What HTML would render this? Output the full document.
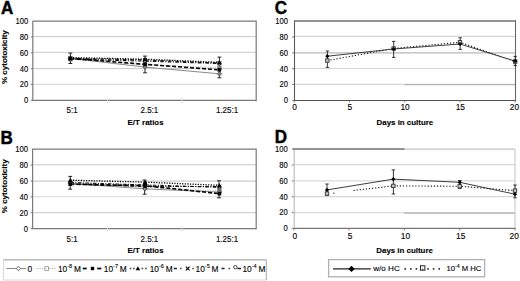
<!DOCTYPE html>
<html><head><meta charset="utf-8"><style>
html,body{margin:0;padding:0;background:#fff;}
text{stroke:#000;stroke-width:0.12px;}
.lt text{stroke:#000;stroke-width:0.45px;}
body{width:520px;height:281px;overflow:hidden;}
svg{display:block;}
</style></head><body>
<svg width="520" height="281" viewBox="0 0 520 281" font-family='"Liberation Sans", sans-serif' fill="#000">
<rect width="520" height="281" fill="#fff"/>
<g class="lt" font-weight="bold" font-size="17" fill="#000">
<text transform="translate(1.1,14.3) scale(1.0,1.05)">A</text>
<text transform="translate(0.6,143.5) scale(1.0,1.08)">B</text>
<text transform="translate(274.8,13.7) scale(1.0,1.05)">C</text>
<text transform="translate(274.8,143.3) scale(1.0,1.06)">D</text>
</g>
<line x1="32.8" y1="36.60" x2="256.2" y2="36.60" stroke="#c8c8c8" stroke-width="1.0"/>
<line x1="32.8" y1="52.45" x2="256.2" y2="52.45" stroke="#d6d6d6" stroke-width="1.3"/>
<line x1="32.8" y1="68.60" x2="256.2" y2="68.60" stroke="#c8c8c8" stroke-width="1.0"/>
<line x1="32.8" y1="84.30" x2="256.2" y2="84.30" stroke="#dadada" stroke-width="1.3"/>
<line x1="30.799999999999997" y1="37.02" x2="32.8" y2="37.02" stroke="#7a7a7a" stroke-width="1"/>
<line x1="30.799999999999997" y1="52.84" x2="32.8" y2="52.84" stroke="#7a7a7a" stroke-width="1"/>
<line x1="30.799999999999997" y1="68.66" x2="32.8" y2="68.66" stroke="#7a7a7a" stroke-width="1"/>
<line x1="30.799999999999997" y1="84.48" x2="32.8" y2="84.48" stroke="#7a7a7a" stroke-width="1"/>
<line x1="30.799999999999997" y1="100.30" x2="32.8" y2="100.30" stroke="#7a7a7a" stroke-width="1"/>
<path d="M32.8,21.2 L256.2,21.2 L256.2,101.3 M32.8,20.7 L32.8,100.3 L256.7,100.3" fill="none" stroke="#7a7a7a" stroke-width="1.2"/>
<text transform="translate(28.20,24.10) scale(0.91,1)" text-anchor="end" font-size="8.4">100</text>
<text transform="translate(28.20,39.92) scale(0.91,1)" text-anchor="end" font-size="8.4">80</text>
<text transform="translate(28.20,55.74) scale(0.91,1)" text-anchor="end" font-size="8.4">60</text>
<text transform="translate(28.20,71.56) scale(0.91,1)" text-anchor="end" font-size="8.4">40</text>
<text transform="translate(28.20,87.38) scale(0.91,1)" text-anchor="end" font-size="8.4">20</text>
<text transform="translate(28.20,103.20) scale(0.91,1)" text-anchor="end" font-size="8.4">0</text>
<line x1="107.6" y1="97.3" x2="107.6" y2="103.3" stroke="#e2e2e2" stroke-width="1"/>
<line x1="182.0" y1="97.3" x2="182.0" y2="103.3" stroke="#e2e2e2" stroke-width="1"/>
<path d="M70.40,59.17 L145.00,64.70 L219.40,67.87" fill="none" stroke="#9a9a9a" stroke-width="0.9" stroke-dasharray="1,1.5"/>
<path d="M70.40,58.38 L145.00,67.08 L219.40,73.80" fill="none" stroke="#8a8a8a" stroke-width="1.0"/>
<path d="M70.40,59.17 L145.00,61.15 L219.40,63.52" fill="none" stroke="#111" stroke-width="1.1" stroke-dasharray="3.5,1.5,1,1.5"/>
<path d="M70.40,58.38 L145.00,59.96 L219.40,63.12" fill="none" stroke="#111" stroke-width="1.1" stroke-dasharray="3.5,1.5,1,1.5"/>
<path d="M70.40,57.59 L145.00,59.17 L219.40,62.33" fill="none" stroke="#000" stroke-width="1.3" stroke-dasharray="1.2,1.4"/>
<path d="M70.40,58.38 L145.00,64.31 L219.40,69.85" fill="none" stroke="#000" stroke-width="1.6" stroke-dasharray="4,2"/>
<line x1="70.4" y1="53.1" x2="70.4" y2="63.5" stroke="#222" stroke-width="1.0"/>
<line x1="68.5" y1="53.1" x2="72.30000000000001" y2="53.1" stroke="#222" stroke-width="1.0"/>
<line x1="68.5" y1="63.5" x2="72.30000000000001" y2="63.5" stroke="#222" stroke-width="1.0"/>
<line x1="145.0" y1="56.1" x2="145.0" y2="72.8" stroke="#222" stroke-width="1.0"/>
<line x1="143.1" y1="56.1" x2="146.9" y2="56.1" stroke="#222" stroke-width="1.0"/>
<line x1="143.1" y1="72.8" x2="146.9" y2="72.8" stroke="#222" stroke-width="1.0"/>
<line x1="219.4" y1="57.1" x2="219.4" y2="77.8" stroke="#222" stroke-width="1.0"/>
<line x1="217.5" y1="57.1" x2="221.3" y2="57.1" stroke="#222" stroke-width="1.0"/>
<line x1="217.5" y1="77.8" x2="221.3" y2="77.8" stroke="#222" stroke-width="1.0"/>
<rect x="68.60" y="57.37" width="3.60" height="3.60" fill="#888" stroke="#888" stroke-width="0.8"/>
<rect x="143.20" y="62.91" width="3.60" height="3.60" fill="#888" stroke="#888" stroke-width="0.8"/>
<rect x="217.60" y="66.07" width="3.60" height="3.60" fill="#888" stroke="#888" stroke-width="0.8"/>
<path d="M68.20,58.38 L70.40,56.18 L72.60,58.38 L70.40,60.58 Z" fill="#888" stroke="#555" stroke-width="0.9"/>
<path d="M142.80,67.08 L145.00,64.88 L147.20,67.08 L145.00,69.28 Z" fill="#888" stroke="#555" stroke-width="0.9"/>
<path d="M217.20,73.80 L219.40,71.60 L221.60,73.80 L219.40,76.00 Z" fill="#888" stroke="#555" stroke-width="0.9"/>
<circle cx="70.40" cy="59.17" r="1.8" fill="#888" stroke="#333" stroke-width="0.8"/>
<circle cx="145.00" cy="61.15" r="1.8" fill="#888" stroke="#333" stroke-width="0.8"/>
<circle cx="219.40" cy="63.52" r="1.8" fill="#888" stroke="#333" stroke-width="0.8"/>
<path d="M68.60,56.58 L72.20,60.18 M72.20,56.58 L68.60,60.18" stroke="#000" stroke-width="0.9"/>
<path d="M143.20,58.16 L146.80,61.76 M146.80,58.16 L143.20,61.76" stroke="#000" stroke-width="0.9"/>
<path d="M217.60,61.32 L221.20,64.92 M221.20,61.32 L217.60,64.92" stroke="#000" stroke-width="0.9"/>
<path d="M70.40,55.39 L72.60,59.35 L68.20,59.35 Z" fill="#000"/>
<path d="M145.00,56.97 L147.20,60.93 L142.80,60.93 Z" fill="#000"/>
<path d="M219.40,60.13 L221.60,64.09 L217.20,64.09 Z" fill="#000"/>
<rect x="68.60" y="56.58" width="3.60" height="3.60" fill="#000"/>
<rect x="143.20" y="62.51" width="3.60" height="3.60" fill="#000"/>
<rect x="217.60" y="68.05" width="3.60" height="3.60" fill="#000"/>
<text transform="translate(72.1,113.00) scale(0.95,1)" text-anchor="middle" font-size="8.4">5:1</text>
<text transform="translate(149.4,113.00) scale(0.95,1)" text-anchor="middle" font-size="8.4">2.5:1</text>
<text transform="translate(227.0,113.00) scale(0.95,1)" text-anchor="middle" font-size="8.4">1.25:1</text>
<text x="145.6" y="124.9" text-anchor="middle" font-size="7.9" font-weight="bold">E/T ratios</text>
<text transform="translate(7.3,57.1) rotate(-90)" text-anchor="middle" font-size="8" font-weight="bold">% cytotoxicity</text>
<line x1="32.6" y1="164.80" x2="256.2" y2="164.80" stroke="#c6c6c6" stroke-width="1.0"/>
<line x1="32.6" y1="181.10" x2="256.2" y2="181.10" stroke="#cccccc" stroke-width="1.1"/>
<line x1="32.6" y1="196.60" x2="256.2" y2="196.60" stroke="#e0e0e0" stroke-width="1.4"/>
<line x1="32.6" y1="212.70" x2="256.2" y2="212.70" stroke="#c6c6c6" stroke-width="1.0"/>
<line x1="30.6" y1="165.08" x2="32.6" y2="165.08" stroke="#7a7a7a" stroke-width="1"/>
<line x1="30.6" y1="180.96" x2="32.6" y2="180.96" stroke="#7a7a7a" stroke-width="1"/>
<line x1="30.6" y1="196.84" x2="32.6" y2="196.84" stroke="#7a7a7a" stroke-width="1"/>
<line x1="30.6" y1="212.72" x2="32.6" y2="212.72" stroke="#7a7a7a" stroke-width="1"/>
<line x1="30.6" y1="228.60" x2="32.6" y2="228.60" stroke="#7a7a7a" stroke-width="1"/>
<path d="M32.6,149.2 L256.2,149.2 L256.2,229.6 M32.6,148.7 L32.6,228.6 L256.7,228.6" fill="none" stroke="#7a7a7a" stroke-width="1.2"/>
<text transform="translate(28.00,152.10) scale(0.91,1)" text-anchor="end" font-size="8.4">100</text>
<text transform="translate(28.00,167.98) scale(0.91,1)" text-anchor="end" font-size="8.4">80</text>
<text transform="translate(28.00,183.86) scale(0.91,1)" text-anchor="end" font-size="8.4">60</text>
<text transform="translate(28.00,199.74) scale(0.91,1)" text-anchor="end" font-size="8.4">40</text>
<text transform="translate(28.00,215.62) scale(0.91,1)" text-anchor="end" font-size="8.4">20</text>
<text transform="translate(28.00,231.50) scale(0.91,1)" text-anchor="end" font-size="8.4">0</text>
<line x1="107.6" y1="225.6" x2="107.6" y2="231.6" stroke="#e2e2e2" stroke-width="1"/>
<line x1="182.0" y1="225.6" x2="182.0" y2="231.6" stroke="#e2e2e2" stroke-width="1"/>
<path d="M70.40,182.55 L145.00,187.31 L219.40,191.28" fill="none" stroke="#9a9a9a" stroke-width="0.9" stroke-dasharray="1,1.5"/>
<path d="M70.40,183.34 L145.00,188.90 L219.40,192.08" fill="none" stroke="#8a8a8a" stroke-width="1.0"/>
<path d="M70.40,182.55 L145.00,184.93 L219.40,187.31" fill="none" stroke="#111" stroke-width="1.1" stroke-dasharray="3.5,1.5,1,1.5"/>
<path d="M70.40,184.14 L145.00,186.52 L219.40,186.52" fill="none" stroke="#111" stroke-width="1.1" stroke-dasharray="3.5,1.5,1,1.5"/>
<path d="M70.40,184.14 L145.00,185.72 L219.40,193.66" fill="none" stroke="#000" stroke-width="1.6" stroke-dasharray="4,2"/>
<path d="M70.40,180.17 L145.00,182.15 L219.40,185.33" fill="none" stroke="#000" stroke-width="1.3" stroke-dasharray="1.2,1.4"/>
<line x1="70.2" y1="176.4" x2="70.2" y2="189.2" stroke="#222" stroke-width="1.0"/>
<line x1="68.3" y1="176.4" x2="72.10000000000001" y2="176.4" stroke="#222" stroke-width="1.0"/>
<line x1="68.3" y1="189.2" x2="72.10000000000001" y2="189.2" stroke="#222" stroke-width="1.0"/>
<line x1="144.6" y1="180.0" x2="144.6" y2="194.2" stroke="#222" stroke-width="1.0"/>
<line x1="142.7" y1="180.0" x2="146.5" y2="180.0" stroke="#222" stroke-width="1.0"/>
<line x1="142.7" y1="194.2" x2="146.5" y2="194.2" stroke="#222" stroke-width="1.0"/>
<line x1="219.0" y1="180.7" x2="219.0" y2="197.8" stroke="#222" stroke-width="1.0"/>
<line x1="217.1" y1="180.7" x2="220.9" y2="180.7" stroke="#222" stroke-width="1.0"/>
<line x1="217.1" y1="197.8" x2="220.9" y2="197.8" stroke="#222" stroke-width="1.0"/>
<rect x="68.60" y="180.75" width="3.60" height="3.60" fill="#888" stroke="#888" stroke-width="0.8"/>
<rect x="143.20" y="185.51" width="3.60" height="3.60" fill="#888" stroke="#888" stroke-width="0.8"/>
<rect x="217.60" y="189.48" width="3.60" height="3.60" fill="#888" stroke="#888" stroke-width="0.8"/>
<path d="M68.20,183.34 L70.40,181.14 L72.60,183.34 L70.40,185.54 Z" fill="#888" stroke="#555" stroke-width="0.9"/>
<path d="M142.80,188.90 L145.00,186.70 L147.20,188.90 L145.00,191.10 Z" fill="#888" stroke="#555" stroke-width="0.9"/>
<path d="M217.20,192.08 L219.40,189.88 L221.60,192.08 L219.40,194.28 Z" fill="#888" stroke="#555" stroke-width="0.9"/>
<circle cx="70.40" cy="182.55" r="1.8" fill="#888" stroke="#333" stroke-width="0.8"/>
<circle cx="145.00" cy="184.93" r="1.8" fill="#888" stroke="#333" stroke-width="0.8"/>
<circle cx="219.40" cy="187.31" r="1.8" fill="#888" stroke="#333" stroke-width="0.8"/>
<path d="M68.60,182.34 L72.20,185.94 M72.20,182.34 L68.60,185.94" stroke="#000" stroke-width="0.9"/>
<path d="M143.20,184.72 L146.80,188.32 M146.80,184.72 L143.20,188.32" stroke="#000" stroke-width="0.9"/>
<path d="M217.60,184.72 L221.20,188.32 M221.20,184.72 L217.60,188.32" stroke="#000" stroke-width="0.9"/>
<rect x="68.60" y="182.34" width="3.60" height="3.60" fill="#000"/>
<rect x="143.20" y="183.92" width="3.60" height="3.60" fill="#000"/>
<rect x="217.60" y="191.86" width="3.60" height="3.60" fill="#000"/>
<path d="M70.40,177.97 L72.60,181.93 L68.20,181.93 Z" fill="#000"/>
<path d="M145.00,179.95 L147.20,183.91 L142.80,183.91 Z" fill="#000"/>
<path d="M219.40,183.13 L221.60,187.09 L217.20,187.09 Z" fill="#000"/>
<text transform="translate(72.1,241.90) scale(0.95,1)" text-anchor="middle" font-size="8.4">5:1</text>
<text transform="translate(149.4,241.90) scale(0.95,1)" text-anchor="middle" font-size="8.4">2.5:1</text>
<text transform="translate(227.0,241.90) scale(0.95,1)" text-anchor="middle" font-size="8.4">1.25:1</text>
<text x="145.6" y="253.0" text-anchor="middle" font-size="7.9" font-weight="bold">E/T ratios</text>
<text transform="translate(7.3,186.3) rotate(-90)" text-anchor="middle" font-size="8" font-weight="bold">% cytotoxicity</text>
<line x1="294.2" y1="36.40" x2="515.2" y2="36.40" stroke="#d6d6d6" stroke-width="1.2"/>
<line x1="294.2" y1="52.90" x2="515.2" y2="52.90" stroke="#b8b8b8" stroke-width="1.1"/>
<line x1="294.2" y1="68.50" x2="515.2" y2="68.50" stroke="#d4d4d4" stroke-width="1.2"/>
<line x1="294.2" y1="84.30" x2="515.2" y2="84.30" stroke="#d4d4d4" stroke-width="1.2"/>
<line x1="292.2" y1="37.04" x2="294.2" y2="37.04" stroke="#7a7a7a" stroke-width="1"/>
<line x1="292.2" y1="52.88" x2="294.2" y2="52.88" stroke="#7a7a7a" stroke-width="1"/>
<line x1="292.2" y1="68.72" x2="294.2" y2="68.72" stroke="#7a7a7a" stroke-width="1"/>
<line x1="292.2" y1="84.56" x2="294.2" y2="84.56" stroke="#7a7a7a" stroke-width="1"/>
<line x1="292.2" y1="100.40" x2="294.2" y2="100.40" stroke="#7a7a7a" stroke-width="1"/>
<line x1="404.5" y1="84.70" x2="515.2" y2="84.70" stroke="#b4b4b4" stroke-width="1.2"/>
<line x1="294.5" y1="20.6" x2="294.5" y2="100.5" stroke="#5c5c5c" stroke-width="1.1"/>
<line x1="294" y1="100.5" x2="516" y2="100.5" stroke="#505050" stroke-width="1.1"/>
<line x1="294" y1="21.0" x2="516" y2="21.0" stroke="#6e6e6e" stroke-width="1.4"/>
<line x1="515.5" y1="20.4" x2="515.5" y2="101.5" stroke="#666" stroke-width="1.1"/>
<text transform="translate(288.10,24.10) scale(0.91,1)" text-anchor="end" font-size="8.4">100</text>
<text transform="translate(288.10,39.94) scale(0.91,1)" text-anchor="end" font-size="8.4">80</text>
<text transform="translate(288.10,55.78) scale(0.91,1)" text-anchor="end" font-size="8.4">60</text>
<text transform="translate(288.10,71.62) scale(0.91,1)" text-anchor="end" font-size="8.4">40</text>
<text transform="translate(288.10,87.46) scale(0.91,1)" text-anchor="end" font-size="8.4">20</text>
<text transform="translate(288.10,103.30) scale(0.91,1)" text-anchor="end" font-size="8.4">0</text>
<line x1="294.20" y1="100.4" x2="294.20" y2="102.4" stroke="#7a7a7a" stroke-width="1"/>
<text x="294.60" y="110.40" text-anchor="middle" font-size="8.4">0</text>
<line x1="349.45" y1="100.4" x2="349.45" y2="102.4" stroke="#7a7a7a" stroke-width="1"/>
<text x="349.85" y="110.40" text-anchor="middle" font-size="8.4">5</text>
<line x1="404.70" y1="100.4" x2="404.70" y2="102.4" stroke="#7a7a7a" stroke-width="1"/>
<text x="405.10" y="110.40" text-anchor="middle" font-size="8.4">10</text>
<line x1="459.95" y1="100.4" x2="459.95" y2="102.4" stroke="#7a7a7a" stroke-width="1"/>
<text x="460.35" y="110.40" text-anchor="middle" font-size="8.4">15</text>
<line x1="515.20" y1="100.4" x2="515.20" y2="102.4" stroke="#7a7a7a" stroke-width="1"/>
<text x="514.40" y="110.40" text-anchor="middle" font-size="8.4">20</text>
<text x="404.90" y="124.80" text-anchor="middle" font-size="7.9" font-weight="bold">Days in culture</text>
<path d="M327.35,60.56 L393.65,48.52 L459.95,42.27 L515.20,61.59" fill="none" stroke="#111" stroke-width="1.1" stroke-dasharray="1.2,1.9"/>
<path d="M327.35,56.21 L393.65,49.00 L459.95,44.01 L515.20,61.12" fill="none" stroke="#333" stroke-width="0.95"/>
<line x1="327.4" y1="51.0" x2="327.4" y2="67.4" stroke="#222" stroke-width="0.9"/>
<line x1="325.7" y1="51.0" x2="329.09999999999997" y2="51.0" stroke="#222" stroke-width="0.9"/>
<line x1="325.7" y1="67.4" x2="329.09999999999997" y2="67.4" stroke="#222" stroke-width="0.9"/>
<line x1="393.7" y1="41.4" x2="393.7" y2="57.4" stroke="#222" stroke-width="0.9"/>
<line x1="392.0" y1="41.4" x2="395.4" y2="41.4" stroke="#222" stroke-width="0.9"/>
<line x1="392.0" y1="57.4" x2="395.4" y2="57.4" stroke="#222" stroke-width="0.9"/>
<line x1="460.2" y1="37.8" x2="460.2" y2="49.4" stroke="#222" stroke-width="0.9"/>
<line x1="458.5" y1="37.8" x2="461.9" y2="37.8" stroke="#222" stroke-width="0.9"/>
<line x1="458.5" y1="49.4" x2="461.9" y2="49.4" stroke="#222" stroke-width="0.9"/>
<line x1="515.2" y1="56.4" x2="515.2" y2="65.6" stroke="#222" stroke-width="0.9"/>
<line x1="513.5" y1="56.4" x2="516.9000000000001" y2="56.4" stroke="#222" stroke-width="0.9"/>
<line x1="513.5" y1="65.6" x2="516.9000000000001" y2="65.6" stroke="#222" stroke-width="0.9"/>
<rect x="325.65" y="58.86" width="3.40" height="3.40" fill="#c8c8c8" stroke="#333" stroke-width="0.9"/>
<rect x="391.95" y="46.82" width="3.40" height="3.40" fill="#c8c8c8" stroke="#333" stroke-width="0.9"/>
<rect x="458.25" y="40.57" width="3.40" height="3.40" fill="#c8c8c8" stroke="#333" stroke-width="0.9"/>
<rect x="513.50" y="59.89" width="3.40" height="3.40" fill="#c8c8c8" stroke="#333" stroke-width="0.9"/>
<path d="M325.25,56.21 L327.35,54.11 L329.45,56.21 L327.35,58.31 Z" fill="#000"/>
<path d="M391.55,49.00 L393.65,46.90 L395.75,49.00 L393.65,51.10 Z" fill="#000"/>
<path d="M457.85,44.01 L459.95,41.91 L462.05,44.01 L459.95,46.11 Z" fill="#000"/>
<path d="M513.10,61.12 L515.20,59.02 L517.30,61.12 L515.20,63.22 Z" fill="#000"/>
<line x1="293.8" y1="164.60" x2="515.0" y2="164.60" stroke="#d8d8d8" stroke-width="1.2"/>
<line x1="293.8" y1="180.80" x2="515.0" y2="180.80" stroke="#dadada" stroke-width="1.2"/>
<line x1="293.8" y1="196.70" x2="515.0" y2="196.70" stroke="#d6d6d6" stroke-width="1.2"/>
<line x1="293.8" y1="212.70" x2="515.0" y2="212.70" stroke="#dadada" stroke-width="1.2"/>
<line x1="291.8" y1="165.04" x2="293.8" y2="165.04" stroke="#7a7a7a" stroke-width="1"/>
<line x1="291.8" y1="180.88" x2="293.8" y2="180.88" stroke="#7a7a7a" stroke-width="1"/>
<line x1="291.8" y1="196.72" x2="293.8" y2="196.72" stroke="#7a7a7a" stroke-width="1"/>
<line x1="291.8" y1="212.56" x2="293.8" y2="212.56" stroke="#7a7a7a" stroke-width="1"/>
<line x1="291.8" y1="228.40" x2="293.8" y2="228.40" stroke="#7a7a7a" stroke-width="1"/>
<line x1="403.8" y1="213.10" x2="515.0" y2="213.10" stroke="#b4b4b4" stroke-width="1.2"/>
<line x1="294.2" y1="149" x2="294.2" y2="228.4" stroke="#b8b8b8" stroke-width="1.1"/>
<line x1="404.6" y1="149.1" x2="515.0" y2="149.1" stroke="#c4c4c4" stroke-width="1.2"/>
<line x1="515.0" y1="149.1" x2="515.0" y2="229" stroke="#c8c8c8" stroke-width="1.1"/>
<line x1="292.3" y1="149.0" x2="404.6" y2="149.0" stroke="#707070" stroke-width="1.4"/>
<line x1="294" y1="228.4" x2="515.5" y2="228.4" stroke="#787878" stroke-width="1.2"/>
<text transform="translate(287.70,152.10) scale(0.91,1)" text-anchor="end" font-size="8.4">100</text>
<text transform="translate(287.70,167.94) scale(0.91,1)" text-anchor="end" font-size="8.4">80</text>
<text transform="translate(287.70,183.78) scale(0.91,1)" text-anchor="end" font-size="8.4">60</text>
<text transform="translate(287.70,199.62) scale(0.91,1)" text-anchor="end" font-size="8.4">40</text>
<text transform="translate(287.70,215.46) scale(0.91,1)" text-anchor="end" font-size="8.4">20</text>
<text transform="translate(287.70,231.30) scale(0.91,1)" text-anchor="end" font-size="8.4">0</text>
<line x1="293.80" y1="228.4" x2="293.80" y2="230.4" stroke="#7a7a7a" stroke-width="1"/>
<text x="294.80" y="239.30" text-anchor="middle" font-size="8.4">0</text>
<line x1="349.10" y1="228.4" x2="349.10" y2="230.4" stroke="#7a7a7a" stroke-width="1"/>
<text x="350.10" y="239.30" text-anchor="middle" font-size="8.4">5</text>
<line x1="404.40" y1="228.4" x2="404.40" y2="230.4" stroke="#7a7a7a" stroke-width="1"/>
<text x="405.40" y="239.30" text-anchor="middle" font-size="8.4">10</text>
<line x1="459.70" y1="228.4" x2="459.70" y2="230.4" stroke="#7a7a7a" stroke-width="1"/>
<text x="460.70" y="239.30" text-anchor="middle" font-size="8.4">15</text>
<line x1="515.00" y1="228.4" x2="515.00" y2="230.4" stroke="#7a7a7a" stroke-width="1"/>
<text x="514.20" y="239.30" text-anchor="middle" font-size="8.4">20</text>
<text x="404.60" y="252.80" text-anchor="middle" font-size="7.9" font-weight="bold">Days in culture</text>
<path d="M353.52,190.48 L393.34,185.87 L459.70,186.27 L515.00,190.62" fill="none" stroke="#111" stroke-width="1.1" stroke-dasharray="1.2,1.9"/>
<rect x="333.18" y="192.65" width="1.2" height="1.2" fill="#333"/>
<path d="M326.98,189.91 L393.34,179.14 L459.70,182.31 L515.00,194.19" fill="none" stroke="#333" stroke-width="0.95"/>
<line x1="327.0" y1="184.0" x2="327.0" y2="195.3" stroke="#222" stroke-width="0.9"/>
<line x1="325.3" y1="184.0" x2="328.7" y2="184.0" stroke="#222" stroke-width="0.9"/>
<line x1="325.3" y1="195.3" x2="328.7" y2="195.3" stroke="#222" stroke-width="0.9"/>
<line x1="393.4" y1="169.9" x2="393.4" y2="194.0" stroke="#222" stroke-width="0.9"/>
<line x1="391.7" y1="169.9" x2="395.09999999999997" y2="169.9" stroke="#222" stroke-width="0.9"/>
<line x1="391.7" y1="194.0" x2="395.09999999999997" y2="194.0" stroke="#222" stroke-width="0.9"/>
<line x1="459.9" y1="180.5" x2="459.9" y2="188.5" stroke="#222" stroke-width="0.9"/>
<line x1="458.2" y1="180.5" x2="461.59999999999997" y2="180.5" stroke="#222" stroke-width="0.9"/>
<line x1="458.2" y1="188.5" x2="461.59999999999997" y2="188.5" stroke="#222" stroke-width="0.9"/>
<line x1="515.0" y1="185.0" x2="515.0" y2="197.8" stroke="#222" stroke-width="0.9"/>
<line x1="513.3" y1="185.0" x2="516.7" y2="185.0" stroke="#222" stroke-width="0.9"/>
<line x1="513.3" y1="197.8" x2="516.7" y2="197.8" stroke="#222" stroke-width="0.9"/>
<rect x="325.28" y="191.85" width="3.40" height="3.40" fill="#c8c8c8" stroke="#333" stroke-width="0.9"/>
<rect x="391.64" y="184.17" width="3.40" height="3.40" fill="#c8c8c8" stroke="#333" stroke-width="0.9"/>
<rect x="458.00" y="184.57" width="3.40" height="3.40" fill="#c8c8c8" stroke="#333" stroke-width="0.9"/>
<rect x="513.30" y="188.92" width="3.40" height="3.40" fill="#c8c8c8" stroke="#333" stroke-width="0.9"/>
<path d="M324.88,189.91 L326.98,187.81 L329.08,189.91 L326.98,192.01 Z" fill="#000"/>
<path d="M391.24,179.14 L393.34,177.04 L395.44,179.14 L393.34,181.24 Z" fill="#000"/>
<path d="M457.60,182.31 L459.70,180.21 L461.80,182.31 L459.70,184.41 Z" fill="#000"/>
<path d="M512.90,194.19 L515.00,192.09 L517.10,194.19 L515.00,196.29 Z" fill="#000"/>
<rect x="3.5" y="259.8" width="262.8" height="20.2" fill="#fff" stroke="#d4d4d4" stroke-width="0.9"/>
<line x1="3.5" y1="259.8" x2="266.3" y2="259.8" stroke="#bdbdbd" stroke-width="1.6"/>
<line x1="266.3" y1="259.8" x2="266.3" y2="280" stroke="#b8b8b8" stroke-width="1.1"/>
<line x1="6.3" y1="268.5" x2="26" y2="268.5" stroke="#8a8a8a" stroke-width="1.0"/>
<path d="M16.30,268.50 L18.50,266.30 L20.70,268.50 L18.50,270.70 Z" fill="#fff" stroke="#555" stroke-width="0.9"/>
<text x="27.5" y="271.8" font-size="8.3">0</text>
<line x1="36.9" y1="268.5" x2="55.4" y2="268.5" stroke="#9a9a9a" stroke-width="0.9" stroke-dasharray="1,1.5"/>
<rect x="44.90" y="266.70" width="3.60" height="3.60" fill="#fff" stroke="#888" stroke-width="0.8"/>
<text x="57.9" y="271.8" font-size="8.3">10<tspan font-size="5.6" dy="-3.4">-8</tspan><tspan dy="3.4" dx="-0.5"> M</tspan></text>
<line x1="82.7" y1="268.5" x2="86.7" y2="268.5" stroke="#000" stroke-width="1.7"/>
<line x1="97.2" y1="268.5" x2="101.3" y2="268.5" stroke="#000" stroke-width="1.7"/>
<rect x="90.8" y="266.80" width="3.4" height="3.4" fill="#000"/>
<text x="103.8" y="271.8" font-size="8.3">10<tspan font-size="5.6" dy="-3.4">-7</tspan><tspan dy="3.4" dx="-0.5"> M</tspan></text>
<rect x="129.70" y="267.70" width="1.60" height="1.60" fill="#444"/>
<rect x="133.00" y="267.70" width="1.60" height="1.60" fill="#444"/>
<rect x="141.60" y="267.70" width="1.60" height="1.60" fill="#444"/>
<rect x="145.00" y="267.70" width="1.60" height="1.60" fill="#444"/>
<path d="M137.9,266.20 L140.2,270.20 L135.6,270.20 Z" fill="#000"/>
<text x="149.7" y="271.8" font-size="8.3">10<tspan font-size="5.6" dy="-3.4">-6</tspan><tspan dy="3.4" dx="-0.5"> M</tspan></text>
<line x1="173.8" y1="268.5" x2="176.9" y2="268.5" stroke="#222" stroke-width="1.5"/>
<rect x="180.05" y="267.75" width="1.50" height="1.50" fill="#444"/>
<rect x="192.25" y="267.75" width="1.50" height="1.50" fill="#444"/>
<path d="M185.8,266.60 L189.6,270.40 M189.6,266.60 L185.8,270.40" stroke="#000" stroke-width="1.1"/>
<text x="195.6" y="271.8" font-size="8.3">10<tspan font-size="5.6" dy="-3.4">-5</tspan><tspan dy="3.4" dx="-0.5"> M</tspan></text>
<line x1="221.5" y1="268.5" x2="224.6" y2="268.5" stroke="#222" stroke-width="1.5"/>
<rect x="228.45" y="267.75" width="1.50" height="1.50" fill="#444"/>
<line x1="237.4" y1="268.5" x2="241.0" y2="268.5" stroke="#222" stroke-width="1.5"/>
<circle cx="235.3" cy="267.20" r="1.7" fill="#fff" stroke="#333" stroke-width="0.9"/>
<text x="242.4" y="271.8" font-size="8.3">10<tspan font-size="5.6" dy="-3.4">-4</tspan><tspan dy="3.4" dx="-0.5"> M</tspan></text>
<rect x="328.6" y="259.6" width="156.0" height="17.2" fill="#fff" stroke="#b0b0b0" stroke-width="1.3"/>
<line x1="333" y1="268.9" x2="370.8" y2="268.9" stroke="#222" stroke-width="1.1"/>
<path d="M348.3,268.9 L351.5,265.7 L354.7,268.9 L351.5,272.09999999999997 Z" fill="#000"/>
<text x="373.2" y="270.79999999999995" font-size="8.1">w/o HC</text>
<rect x="404.40" y="268.10" width="1.6" height="1.6" fill="#222"/>
<rect x="410.00" y="268.10" width="1.6" height="1.6" fill="#222"/>
<rect x="415.60" y="268.10" width="1.6" height="1.6" fill="#222"/>
<rect x="427.20" y="268.10" width="1.6" height="1.6" fill="#222"/>
<rect x="432.80" y="268.10" width="1.6" height="1.6" fill="#222"/>
<rect x="438.40" y="268.10" width="1.6" height="1.6" fill="#222"/>
<rect x="420.5" y="265.8" width="4.4" height="4.4" fill="#fff" stroke="#222" stroke-width="1"/>
<rect x="422.1" y="268.6" width="1.2" height="1.2" fill="#333"/>
<text x="446.4" y="270.79999999999995" font-size="8.1" textLength="35" lengthAdjust="spacingAndGlyphs">10<tspan font-size="5.6" dy="-3">-4</tspan><tspan dy="3"> M HC</tspan></text>
</svg>
</body></html>
